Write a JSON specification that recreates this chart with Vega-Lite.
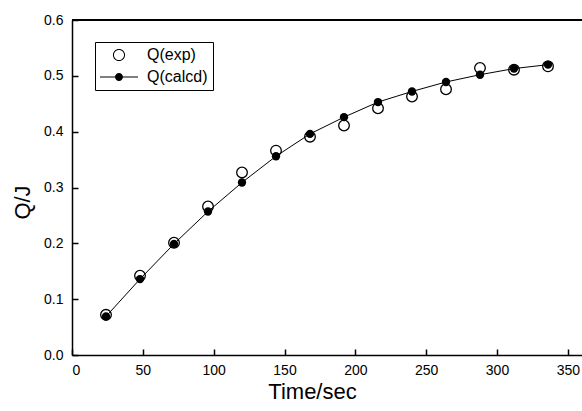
{
  "$schema": "https://vega.github.io/schema/vega-lite/v6.json",
  "width": 510,
  "height": 335,
  "autosize": {"type": "none"},
  "padding": {"left": 72, "top": 20, "right": 0, "bottom": 56},
  "background": "white",
  "config": {
    "view": {"stroke": null},
    "font": "Liberation Sans",
    "axis": {
      "domainColor": "black",
      "domainWidth": 1.5,
      "tickColor": "black",
      "tickWidth": 1.5,
      "labelColor": "black",
      "labelFont": "Liberation Sans",
      "labelFontSize": 14,
      "titleColor": "black",
      "titleFont": "Liberation Sans",
      "titleFontWeight": "normal",
      "titleFontSize": 22,
      "grid": false
    }
  },
  "data": {
    "values": [
      {"t": 24, "series": "Q(exp)", "q": 0.072},
      {"t": 48, "series": "Q(exp)", "q": 0.142},
      {"t": 72, "series": "Q(exp)", "q": 0.201},
      {"t": 96, "series": "Q(exp)", "q": 0.266},
      {"t": 120, "series": "Q(exp)", "q": 0.327},
      {"t": 144, "series": "Q(exp)", "q": 0.366},
      {"t": 168, "series": "Q(exp)", "q": 0.391},
      {"t": 192, "series": "Q(exp)", "q": 0.411},
      {"t": 216, "series": "Q(exp)", "q": 0.442},
      {"t": 240, "series": "Q(exp)", "q": 0.463},
      {"t": 264, "series": "Q(exp)", "q": 0.476},
      {"t": 288, "series": "Q(exp)", "q": 0.514},
      {"t": 312, "series": "Q(exp)", "q": 0.511},
      {"t": 336, "series": "Q(exp)", "q": 0.517},
      {"t": 24, "series": "Q(calcd)", "q": 0.069},
      {"t": 48, "series": "Q(calcd)", "q": 0.136},
      {"t": 72, "series": "Q(calcd)", "q": 0.199},
      {"t": 96, "series": "Q(calcd)", "q": 0.257},
      {"t": 120, "series": "Q(calcd)", "q": 0.309},
      {"t": 144, "series": "Q(calcd)", "q": 0.356},
      {"t": 168, "series": "Q(calcd)", "q": 0.396},
      {"t": 192, "series": "Q(calcd)", "q": 0.426},
      {"t": 216, "series": "Q(calcd)", "q": 0.453},
      {"t": 240, "series": "Q(calcd)", "q": 0.472},
      {"t": 264, "series": "Q(calcd)", "q": 0.489},
      {"t": 288, "series": "Q(calcd)", "q": 0.502},
      {"t": 312, "series": "Q(calcd)", "q": 0.513},
      {"t": 336, "series": "Q(calcd)", "q": 0.520}
    ]
  },
  "layer": [
    {
      "mark": {"type": "rule", "color": "black", "strokeWidth": 1.5},
      "encoding": {"y": {"datum": 0.6, "type": "quantitative"}}
    },
    {
      "transform": [{"filter": "datum.series === 'Q(exp)'"}],
      "mark": {"type": "point", "shape": "circle", "filled": true, "fill": "white", "stroke": "black", "strokeWidth": 1.3, "size": 113, "opacity": 1},
      "encoding": {
        "x": {
          "field": "t", "type": "quantitative",
          "scale": {"domain": [0, 360], "nice": false, "zero": false},
          "axis": {
            "title": "Time/sec",
            "titleX": 240,
            "values": [0, 25, 50, 75, 100, 125, 150, 175, 200, 225, 250, 275, 300, 325, 350],
            "labelExpr": "datum.value % 50 === 0 ? datum.label : ''",
            "tickSize": {"condition": {"test": "datum.value % 50 === 0", "value": -6}, "value": -3},
            "labelPadding": 14,
            "titlePadding": 4
          }
        },
        "y": {
          "field": "q", "type": "quantitative",
          "scale": {"domain": [0, 0.6], "nice": false},
          "axis": {
            "title": "Q/J",
            "titleY": 182,
            "values": [0, 0.05, 0.1, 0.15, 0.2, 0.25, 0.3, 0.35, 0.4, 0.45, 0.5, 0.55, 0.6],
            "labelExpr": "abs(datum.value * 10 - round(datum.value * 10)) < 0.001 ? format(datum.value, '.1f') : ''",
            "tickSize": {"condition": {"test": "abs(datum.value * 10 - round(datum.value * 10)) < 0.001", "value": -6}, "value": -3},
            "labelPadding": 15,
            "titlePadding": 9
          }
        }
      }
    },
    {
      "transform": [{"filter": "datum.series === 'Q(calcd)'"}],
      "mark": {"type": "line", "color": "black", "strokeWidth": 1},
      "encoding": {
        "x": {"field": "t", "type": "quantitative"},
        "y": {"field": "q", "type": "quantitative"}
      }
    },
    {
      "transform": [{"filter": "datum.series === 'Q(calcd)'"}],
      "mark": {"type": "circle", "color": "black", "size": 70, "opacity": 1},
      "encoding": {
        "x": {"field": "t", "type": "quantitative"},
        "y": {"field": "q", "type": "quantitative"}
      }
    },
    {
      "transform": [{"filter": "datum.q < 0"}],
      "mark": {"type": "point", "filled": true, "color": "black", "size": 1444, "opacity": 1},
      "encoding": {
        "x": {"field": "t", "type": "quantitative"},
        "y": {"field": "q", "type": "quantitative"},
        "shape": {
          "field": "series", "type": "nominal",
          "scale": {
            "domain": ["Q(exp)", "Q(calcd)"],
            "range": [
              "M0.32,0A0.32,0.32,0,1,1,-0.32,0A0.32,0.32,0,1,1,0.32,0ZM0.265,0A0.265,0.265,0,1,0,-0.265,0A0.265,0.265,0,1,0,0.265,0Z",
              "M-1,-0.028L-0.2,-0.028L-0.2,0.028L-1,0.028ZM0.2,-0.028L1,-0.028L1,0.028L0.2,0.028ZM0.21,0A0.21,0.21,0,1,1,-0.21,0A0.21,0.21,0,1,1,0.21,0Z"
            ]
          },
          "legend": {
            "title": null,
            "orient": "none",
            "legendX": 23,
            "legendY": 22,
            "strokeColor": "black",
            "fillColor": "white",
            "padding": 5,
            "symbolSize": 1444,
            "symbolFillColor": "black",
            "symbolStrokeWidth": 0,
            "labelFont": "Liberation Sans",
            "labelFontSize": 16,
            "labelColor": "black",
            "labelOffset": 9,
            "clipHeight": 16,
            "rowPadding": 6
          }
        }
      }
    }
  ]
}
